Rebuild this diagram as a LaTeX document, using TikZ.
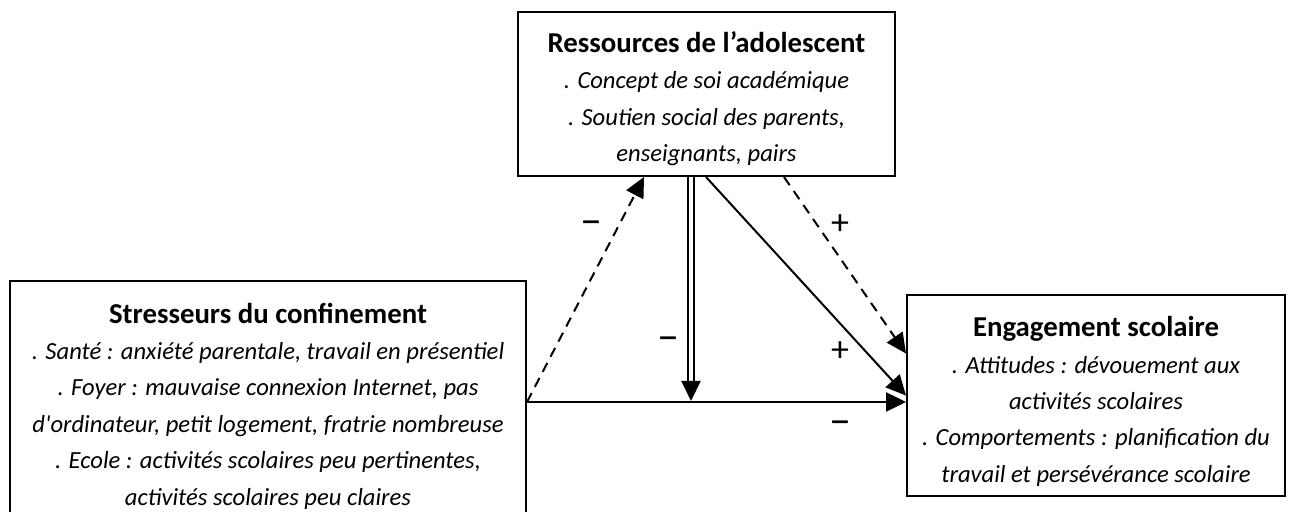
\documentclass[tikz,border=0pt]{standalone}
\usepackage{fontspec}
\setmainfont{Carlito}[Ligatures=TeXOff]
\usetikzlibrary{arrows.meta}
\usetikzlibrary{calc}

\tikzset{
    box/.style={draw, line width=1pt, align=center, inner sep=0pt,
                font=\fontsize{12.3}{18.2}\selectfont\itshape},
    sign/.style={inner sep=0pt, font=\fontsize{18}{18}\selectfont},
    minus/.style={sign, yshift=-2.5pt, font=\fontsize{22}{22}\selectfont},
    link/.style={line width=1pt, arrows=-{Triangle[length=10pt,width=9.5pt]}},
    dashlink/.style={link, dash pattern=on 5pt off 3.5pt}
}
% first line of a box; the optional rule pushes the text down a little
\newcommand{\boxhead}[2][0pt]{{\rule{0pt}{#1}\bfseries\upshape\fontsize{14.4}{18.2}\selectfont #2}}

\begin{document}
\begin{tikzpicture}[x=0.5pt,y=-0.5pt]

    %\draw [help lines] (0,0) grid (1295,512);
    \useasboundingbox (0,0) rectangle (1295,512);

    \path   (706.5,94) node (res) [box, minimum width=188.5pt, minimum height=82pt]
                {\boxhead[15pt]{Ressources de l’adolescent}\\
                 . Concept de soi académique\\
                 . Soutien social des parents,\\
                 enseignants, pairs}
            (268,402) node (stress) [box, minimum width=258pt, minimum height=121pt]
                {\boxhead[14pt]{Stresseurs du confinement}\\
                 . Santé : anxiété parentale, travail en présentiel\\
                 . Foyer : mauvaise connexion Internet, pas\\
                 d'ordinateur, petit logement, fratrie nombreuse\\
                 . Ecole : activités scolaires peu pertinentes,\\
                 activités scolaires peu claires}
            (1096,395.5) node (eng) [box, minimum width=189pt, minimum height=100.5pt]
                {\boxhead[16pt]{Engagement scolaire}\\
                 . Attitudes : dévouement aux\\
                 activités scolaires\\
                 . Comportements : planification du\\
                 travail et persévérance scolaire};

    \coordinate (mid) at (691,403);

    \draw[dashlink] (stress.east) -- ($(res.south west)+(127,0)$);
    % double shaft, then its head
    \draw[line width=0.9pt, shorten >=9pt] ([xshift=-1.6pt]mid |- res.south) -- ([xshift=-1.6pt]mid);
    \draw[line width=0.9pt, shorten >=9pt] ([xshift=1.6pt]mid |- res.south) -- ([xshift=1.6pt]mid);
    \draw[link, shorten >=1pt] ($(mid)+(0,-22)$) -- (mid);
    \draw[link] ($(res.south west)+(189,0)$) -- (eng.west);
    \draw[dashlink] ($(res.south west)+(267,0)$) -- ($(eng.west)+(0,-42)$);
    \draw[link, line width=1.2pt] (stress.east) -- (stress.east -| eng.west);

    \path   (591,223) node (s1) [minus] {–}
            (668,339) node (s2) [minus] {–}
            (840,225) node (s3) [sign] {+}
            (840,352) node (s4) [sign] {+}
            (840,423) node (s5) [minus] {–};

\end{tikzpicture}
\end{document}
